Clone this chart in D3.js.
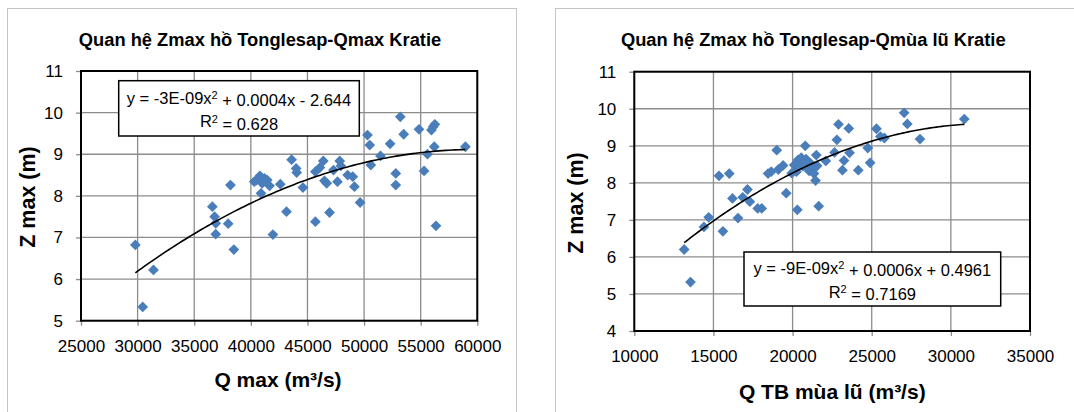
<!DOCTYPE html>
<html><head><meta charset="utf-8">
<script src="https://cdn.jsdelivr.net/npm/d3@7"></script>
<style>
body{margin:0;background:#fff}
svg{display:block}
text{font-family:"Liberation Sans",Arial,sans-serif;fill:#000}
</style>
</head><body>
<svg id="c" width="1074" height="412"></svg>
<script>
// ---- data ----
const qmaxX = [29800,30450,31400,36600,36800,36900,36900,38000,38200,38500,40300,40500,40800,41000,40900,41200,41450,41650,41950,42600,43150,43600,44000,44050,44600,45700,45700,46100,46400,46500,46700,46950,47300,47650,47850,47950,48550,49000,49150,49650,50300,50500,50600,51450,52300,52800,52800,53200,53500,54850,55300,55600,55950,56100,56250,56200,56350,58950];
const qmaxZ = [6.82,5.33,6.22,7.74,7.50,7.34,7.08,7.33,8.26,6.71,8.34,8.38,8.48,8.30,8.06,8.42,8.38,8.24,7.07,8.28,7.62,8.87,8.66,8.56,8.20,7.38,8.58,8.68,8.84,8.36,8.30,7.60,8.62,8.34,8.84,8.72,8.50,8.46,8.22,7.84,9.46,9.22,8.74,8.96,9.25,8.54,8.26,9.90,9.48,9.60,8.60,9.00,9.58,9.66,9.72,9.18,7.28,9.18];
const qfloodX = [13150,13550,14400,14700,15350,15600,16000,16200,16550,16850,17150,17300,17800,18050,18450,18650,19000,19100,19400,19600,19950,20100,20250,20300,20350,20450,20550,20650,20800,20850,20950,21050,21150,21250,21350,21450,21500,21550,21650,22100,22650,22800,22900,23150,23250,23550,23600,24150,24750,24900,25300,25550,25800,27050,27250,28050,30850];
const qfloodZ = [6.20,5.32,6.81,7.07,8.19,6.69,8.25,7.58,7.05,7.61,7.82,7.49,7.31,7.31,8.25,8.30,8.88,8.36,8.47,7.72,8.26,8.48,8.30,7.27,8.62,8.50,8.68,8.45,9.00,8.64,8.40,8.32,8.52,8.36,8.25,8.06,8.75,8.46,7.37,8.59,8.82,9.16,9.58,8.34,8.60,9.47,8.81,8.34,8.94,8.54,9.46,9.25,9.21,9.89,9.59,9.18,9.72];
const leftXTicks = [25000,30000,35000,40000,45000,50000,55000,60000];
const leftYTicks = [5,6,7,8,9,10,11];
const rightXTicks = [10000,15000,20000,25000,30000,35000];
const rightYTicks = [4,5,6,7,8,9,10,11];
const leftTitle = "Quan hệ Zmax hồ Tonglesap-Qmax Kratie";
const rightTitle = "Quan hệ Zmax hồ Tonglesap-Qmùa lũ Kratie";
const leftXTitle = "Q max (m³/s)";
const rightXTitle = "Q TB mùa lũ (m³/s)";
const yTitle = "Z max (m)";
const leftEq = ["y = -3E-09x", "2", " + 0.0004x - 2.644"];
const leftR2 = "0.628";
const rightEq = ["y = -9E-09x", "2", " + 0.0006x + 0.4961"];
const rightR2 = "0.7169";

// quadratic least-squares fit (trendline)
function quadFit(xs, ys){
  const s = 1e4;
  let S=[0,0,0,0,0], T=[0,0,0];
  xs.forEach((x0,i)=>{const x=x0/s, y=ys[i];
    let p=1; for(let k=0;k<5;k++){S[k]+=p; if(k<3) T[k]+=p*y; p*=x;}});
  const A=[[S[0],S[1],S[2],T[0]],[S[1],S[2],S[3],T[1]],[S[2],S[3],S[4],T[2]]];
  for(let i=0;i<3;i++){for(let j=i+1;j<3;j++){const f=A[j][i]/A[i][i];for(let k=i;k<4;k++)A[j][k]-=f*A[i][k];}}
  const c=[0,0,0];
  for(let i=2;i>=0;i--){let v=A[i][3];for(let k=i+1;k<3;k++)v-=A[i][k]*c[k];c[i]=v/A[i][i];}
  return x=>{const u=x/s;return c[0]+c[1]*u+c[2]*u*u;};
}

const svg = d3.select("#c");
svg.append("rect").attr("width",1074).attr("height",412).attr("fill","#fff");

function drawChart(cfg){
  const g = svg.append("g");
  g.append("rect").attr("x",cfg.frame[0]+0.5).attr("y",cfg.frame[1]+0.5)
    .attr("width",cfg.frame[2]).attr("height",cfg.frame[3])
    .attr("fill","#fff").attr("stroke","#c4c4c4").attr("stroke-width",1);
  const [pl,pt,pr,pb] = cfg.plot;
  const x = d3.scaleLinear().domain(d3.extent(cfg.xTicks)).range([pl,pr]);
  const y = d3.scaleLinear().domain(d3.extent(cfg.yTicks)).range([pb,pt]);
  // gridlines
  g.append("g").selectAll("line").data(cfg.xTicks).join("line")
    .attr("x1",d=>x(d)).attr("x2",d=>x(d)).attr("y1",pt).attr("y2",pb)
    .attr("stroke","#8c8c8c").attr("stroke-width",1.3);
  g.append("g").selectAll("line").data(cfg.yTicks).join("line")
    .attr("y1",d=>y(d)).attr("y2",d=>y(d)).attr("x1",pl).attr("x2",pr)
    .attr("stroke","#8c8c8c").attr("stroke-width",1.3);
  // axes
  const ax = g.append("g").attr("transform",`translate(0,${pb})`)
    .call(d3.axisBottom(x).tickValues(cfg.xTicks).tickFormat(d3.format("d")).tickSize(5).tickPadding(14));
  const ay = g.append("g").attr("transform",`translate(${pl},0)`)
    .call(d3.axisLeft(y).tickValues(cfg.yTicks).tickFormat(d3.format("d")).tickSize(5).tickPadding(13));
  [ax,ay].forEach(a=>{
    a.select(".domain").remove();
    a.selectAll(".tick line").attr("stroke","#8c8c8c").attr("stroke-width",1.3);
    a.selectAll(".tick text").attr("font-family","Liberation Sans, Arial, sans-serif").attr("font-size",17).attr("fill","#000");
  });
  // plot border
  g.append("rect").attr("x",pl).attr("y",pt).attr("width",pr-pl).attr("height",pb-pt)
    .attr("fill","none").attr("stroke","#000").attr("stroke-width",2);
  // points
  const pts = cfg.xs.map((v,i)=>[v,cfg.ys[i]]);
  const sym = d3.symbol().type(d3.symbolSquare).size(58);
  g.append("g").selectAll("path").data(pts).join("path")
    .attr("d",sym).attr("fill","#4a7ebb")
    .attr("transform",d=>`translate(${x(d[0])},${y(d[1])}) rotate(45)`);
  // trendline
  const f = quadFit(cfg.xs, cfg.ys);
  const [x0,x1] = d3.extent(cfg.xs);
  const tx = d3.range(0,101).map(i=>x0+(x1-x0)*i/100);
  g.append("path").datum(tx).attr("fill","none").attr("stroke","#000").attr("stroke-width",1.6)
    .attr("d",d3.line().x(d=>x(d)).y(d=>y(f(d))));
  // equation box
  const [bx0,by0,bx1,by1] = cfg.eqBox;
  g.append("rect").attr("x",bx0).attr("y",by0).attr("width",bx1-bx0).attr("height",by1-by0)
    .attr("fill","#fff").attr("stroke","#000").attr("stroke-width",1.5);
  const cx=(bx0+bx1)/2;
  const t1 = g.append("text").attr("x",cx).attr("y",cfg.eqLines[0]).attr("dy","0.35em")
    .attr("text-anchor","middle").attr("font-size",16.5);
  t1.append("tspan").text(cfg.eq[0]);
  t1.append("tspan").attr("dy","-0.45em").attr("font-size",11).text(cfg.eq[1]);
  t1.append("tspan").attr("dy","0.45em").text(cfg.eq[2]);
  const t2 = g.append("text").attr("x",cx).attr("y",cfg.eqLines[1]).attr("dy","0.35em")
    .attr("text-anchor","middle").attr("font-size",16.5);
  t2.append("tspan").text("R");
  t2.append("tspan").attr("dy","-0.45em").attr("font-size",11).text("2");
  t2.append("tspan").attr("dy","0.45em").text(" = "+cfg.r2);
  // titles
  g.append("text").attr("x",cfg.titlePos[0]).attr("y",cfg.titlePos[1]).attr("dy","0.35em")
    .attr("text-anchor","middle").attr("font-weight","bold").attr("font-size",18.3).text(cfg.title);
  g.append("text").attr("x",cfg.xTitlePos[0]).attr("y",cfg.xTitlePos[1]).attr("dy","0.35em")
    .attr("text-anchor","middle").attr("font-weight","bold").attr("font-size",21).text(cfg.xTitle);
  g.append("text").attr("transform",`translate(${cfg.yTitlePos[0]},${cfg.yTitlePos[1]}) rotate(-90)`)
    .attr("dy","0.35em").attr("text-anchor","middle").attr("font-weight","bold").attr("font-size",21.5).text(yTitle);
}

drawChart({
  frame:[7,8,509,420], plot:[81,71,477.3,320.7],
  xTicks:leftXTicks, yTicks:leftYTicks, xs:qmaxX, ys:qmaxZ,
  eqBox:[118.7,80.7,359.3,136], eqLines:[98,121.7], eq:leftEq, r2:leftR2,
  title:leftTitle, titlePos:[260,40], xTitlePos:[278,380], xTitle:leftXTitle, yTitlePos:[27,197]
});
drawChart({
  frame:[555,8,540,420], plot:[634.3,71.7,1030,331],
  xTicks:rightXTicks, yTicks:rightYTicks, xs:qfloodX, ys:qfloodZ,
  eqBox:[744,252,1000.7,306], eqLines:[268,292], eq:rightEq, r2:rightR2,
  title:rightTitle, titlePos:[813.3,40], xTitlePos:[832.3,391.7], xTitle:rightXTitle, yTitlePos:[575,203]
});
</script>
</body></html>
